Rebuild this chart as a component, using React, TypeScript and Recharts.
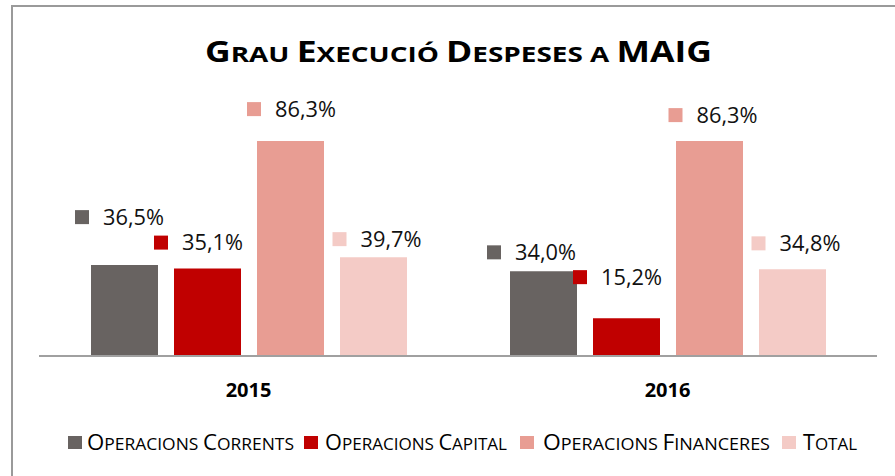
import React from 'react';
import { BarChart, Bar, XAxis, YAxis, LabelList } from 'recharts';

const categories = ['2015', '2016'];
const corrents = [36.5, 34.0];
const capital = [35.1, 15.2];
const financeres = [86.3, 86.3];
const total = [39.7, 34.8];
const seriesNames = ['Operacions Corrents', 'Operacions Capital', 'Operacions Financeres', 'Total'];
const seriesKeys = ['corrents', 'capital', 'financeres', 'total'];
const titleText = 'Grau Execució Despeses a MAIG';

const colors = ['#686361', '#c00000', '#e89d93', '#f4cbc6'];

// label placement (layout only): [dx, dy] per series per category
const labelOffsets = [
  [[-5, -48], [-12, -19]],
  [[-9, -26], [-9, -41]],
  [[1, -32], [3.5, -26]],
  [[3.5, -18], [3.5, -26]],
];

const data = categories.map((c, i) => ({
  cat: c,
  corrents: corrents[i],
  capital: capital[i],
  financeres: financeres[i],
  total: total[i],
}));

const FONT = '"Open Sans", "Noto Sans", sans-serif';

function smallCaps(text: string, big: number, small: number) {
  const parts: { s: string; big: boolean }[] = [];
  for (const ch of text) {
    const isBig = ch !== ' ' && ch === ch.toUpperCase() && ch !== ch.toLowerCase();
    const isSpace = ch === ' ';
    const kind = isSpace ? (parts.length ? parts[parts.length - 1].big : true) : isBig;
    if (parts.length && parts[parts.length - 1].big === kind) parts[parts.length - 1].s += ch;
    else parts.push({ s: ch, big: kind });
  }
  return parts.map((p, i) => (
    <tspan key={i} fontSize={p.big ? big : small}>{p.s.toUpperCase()}</tspan>
  ));
}

const fmt = (v: number) => v.toFixed(1).replace('.', ',') + '%';

const makeLabel = (si: number) => (props: any) => {
  const { x, y, width, value, index } = props;
  const [dx, dy] = labelOffsets[si][index];
  const cx = Number(x) + Number(width) / 2 + dx;
  const cy = Number(y) + dy;
  const left = cx - 44.5;
  return (
    <g>
      <rect x={left} y={cy - 7} width={14} height={14} fill={colors[si]} />
      <text x={left + 28} y={cy + 7.5} fontFamily={FONT} fontSize={21} fill="#111" textLength={61} lengthAdjust="spacingAndGlyphs">
        {fmt(Number(value))}
      </text>
    </g>
  );
};

const CatTick = (props: any) => {
  const { x, y, payload } = props;
  return (
    <text x={x} y={y} dy={41} textAnchor="middle" fontFamily={FONT} fontWeight="bold" fontSize={20} fill="#000">
      {payload.value}
    </text>
  );
};

const legendLayout = [
  { sq: 68, tx: 87, tw: 207 },
  { sq: 304, tx: 325, tw: 182 },
  { sq: 520, tx: 543, tw: 227 },
  { sq: 782, tx: 803, tw: 54 },
];

export default function App() {
  return (
    <div style={{ position: 'absolute', left: 0, top: 0, width: 895, height: 476, background: '#fff', overflow: 'hidden' }}>
      <div style={{ position: 'absolute', left: 11, top: 5, width: 900, height: 500, border: '2px solid #9a9a9a', boxSizing: 'border-box' }} />
      <div style={{ position: 'absolute', left: 0, top: 0 }}>
        <BarChart width={895} height={476} data={data} margin={{ top: 107, right: 18, bottom: 70, left: 39 }} barGap={16} barSize={67}>
          <YAxis hide domain={[0, 100]} />
          <XAxis dataKey="cat" tickLine={false} tickSize={0} tickMargin={0} axisLine={{ stroke: '#a0a0a0', strokeWidth: 2 }} tick={<CatTick />} height={50} />
          {seriesKeys.map((k, si) => (
            <Bar key={k} dataKey={k} name={seriesNames[si]} fill={colors[si]} isAnimationActive={false}>
              <LabelList dataKey={k} content={makeLabel(si)} />
            </Bar>
          ))}
        </BarChart>
      </div>
      <svg width={895} height={476} style={{ position: 'absolute', left: 0, top: 0, pointerEvents: 'none' }}>
        <text x={205} y={62} fontFamily={FONT} fontWeight="bold" fill="#000" textLength={507} lengthAdjust="spacingAndGlyphs">
          {smallCaps(titleText, 28, 22)}
        </text>
        {seriesNames.map((n, i) => (
          <g key={n}>
            <rect x={legendLayout[i].sq} y={436} width={14} height={13} fill={colors[i]} />
            <text x={legendLayout[i].tx} y={450} fontFamily={FONT} fill="#000" textLength={legendLayout[i].tw} lengthAdjust="spacingAndGlyphs">
              {smallCaps(n, 21, 16.5)}
            </text>
          </g>
        ))}
      </svg>
    </div>
  );
}
